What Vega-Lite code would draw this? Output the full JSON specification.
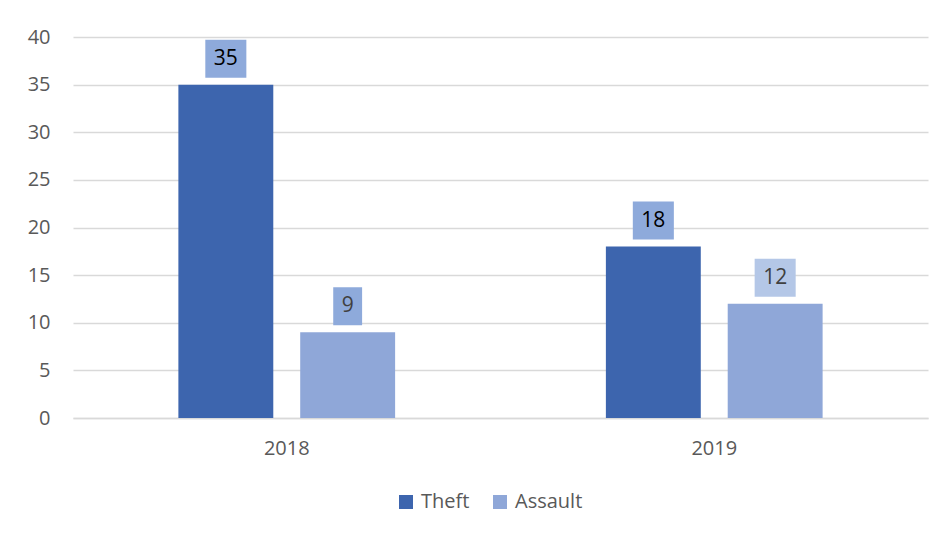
{
  "$schema": "https://vega.github.io/schema/vega-lite/v6.json",
  "width": 855,
  "height": 381,
  "autosize": {"type": "none"},
  "padding": {"left": 73, "top": 37, "right": 19, "bottom": 119},
  "background": "white",
  "config": {
    "view": {"stroke": null},
    "font": "Open Sans",
    "axis": {"labelFont": "Open Sans", "labelFontSize": 20, "labelColor": "#595959"},
    "legend": {"labelFont": "Open Sans"}
  },
  "data": {
    "values": [
      {"year": "2018", "crime": "Theft", "value": 35},
      {"year": "2018", "crime": "Assault", "value": 9},
      {"year": "2019", "crime": "Theft", "value": 18},
      {"year": "2019", "crime": "Assault", "value": 12}
    ]
  },
  "encoding": {
    "x": {
      "field": "year", "type": "nominal",
      "scale": {"paddingInner": 0, "paddingOuter": 0},
      "axis": {"title": null, "labelAngle": 0, "ticks": false, "domainColor": "#d9d9d9", "domainWidth": 1.5, "labelPadding": 20}
    },
    "xOffset": {
      "field": "crime", "type": "nominal", "sort": ["Theft", "Assault"],
      "scale": {"paddingInner": 0.221, "paddingOuter": 0.865}
    },
    "y": {
      "field": "value", "type": "quantitative",
      "scale": {"domain": [0, 40]},
      "axis": {"title": null, "values": [0, 5, 10, 15, 20, 25, 30, 35, 40], "domain": false, "ticks": false, "gridColor": "#d9d9d9", "gridWidth": 1.5, "labelPadding": 23}
    }
  },
  "layer": [
    {
      "mark": {"type": "bar"},
      "encoding": {
        "color": {
          "field": "crime", "type": "nominal", "sort": ["Theft", "Assault"],
          "scale": {"domain": ["Theft", "Assault"], "range": ["#3d65ae", "#8fa7d8"]},
          "legend": {
            "title": null, "orient": "none", "direction": "horizontal",
            "legendX": 323, "legendY": 455,
            "symbolType": "square", "symbolSize": 196, "symbolStrokeWidth": 0,
            "labelFontSize": 20, "labelColor": "#595959", "labelOffset": 5, "columnPadding": 20
          }
        }
      }
    },
    {
      "mark": {"type": "point", "filled": true, "opacity": 1, "strokeWidth": 0, "yOffset": -26},
      "encoding": {
        "size": {"value": 1444},
        "shape": {
          "condition": {"test": "datum.value < 10", "value": "M-0.76,-1H0.76V1H-0.76Z"},
          "value": "M-1.08,-1H1.08V1H-1.08Z"
        },
        "color": {
          "condition": {"test": "datum.year == '2019' && datum.crime == 'Assault'", "value": "#b4c7e7"},
          "value": "#8eaadb"
        }
      }
    },
    {
      "mark": {"type": "text", "font": "Open Sans", "fontSize": 21, "yOffset": -26, "baseline": "middle", "align": "center"},
      "encoding": {
        "text": {"field": "value", "type": "quantitative"},
        "color": {
          "condition": {"test": "datum.crime == 'Theft'", "value": "#000000"},
          "value": "#404040"
        }
      }
    }
  ]
}
